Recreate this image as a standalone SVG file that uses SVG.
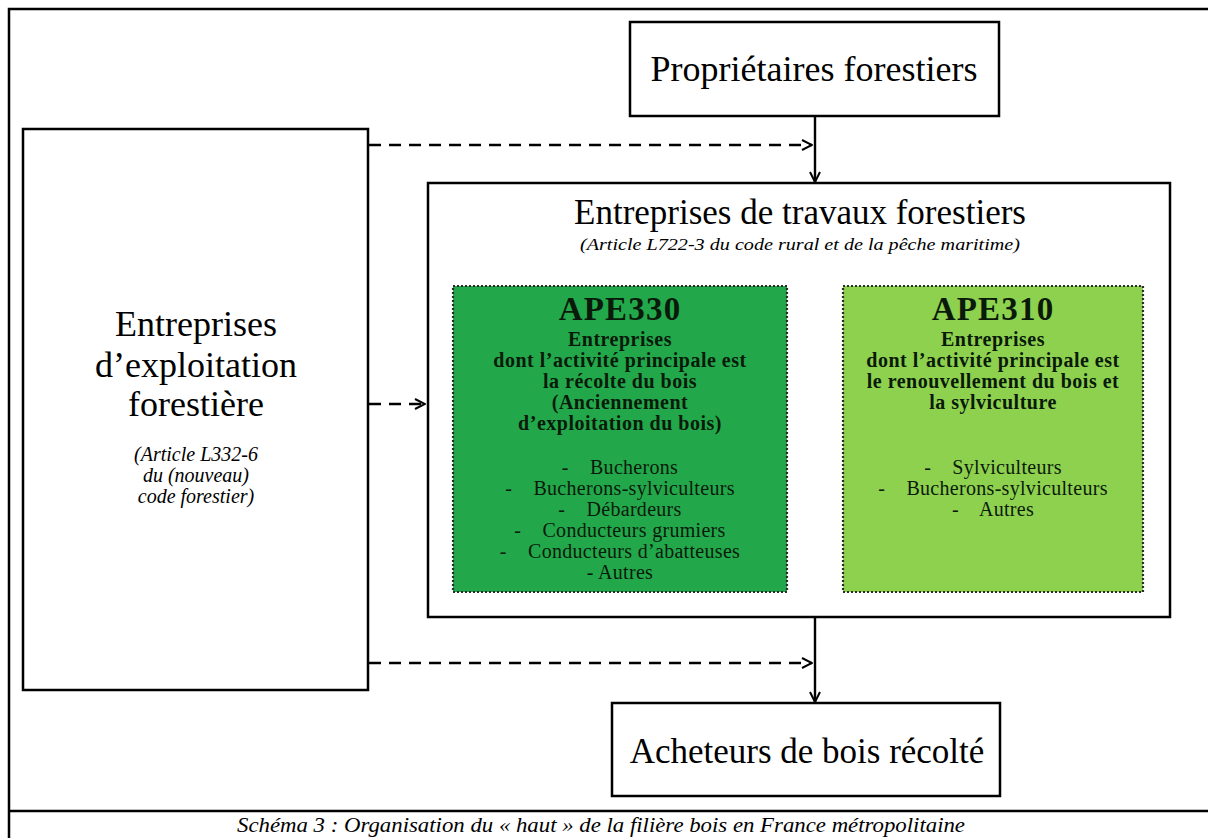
<svg xmlns="http://www.w3.org/2000/svg" width="1208" height="838" viewBox="0 0 1208 838">
<defs>
<style>
.box{fill:#fff;stroke:#000;stroke-width:2.5}
.frame{fill:none;stroke:#000;stroke-width:2.5}
.serif{font-family:"Liberation Serif","Times New Roman",serif;fill:#000}
.big{font-size:36px}
.it{font-style:italic}
.b{font-weight:bold}
.mid{text-anchor:middle}
.ape{stroke:#2b2b2b;stroke-width:2.2;stroke-dasharray:2 2}
.con{fill:none;stroke:#000;stroke-width:2.4}
.dash{stroke-dasharray:12 8}
.gt{font-size:20px;fill:#0a1a0a}
.gb{letter-spacing:0.5px}
.gl{letter-spacing:0.3px}
.head{font-size:33px;letter-spacing:1.2px;fill:#0a1a0a}
</style>
<marker id="arr" viewBox="0 0 12 12" refX="11" refY="6" markerWidth="12" markerHeight="12" markerUnits="userSpaceOnUse" orient="auto">
<path d="M1,1 L11,6 L1,11" fill="none" stroke="#000" stroke-width="2"/>
</marker>
</defs>
<rect width="1208" height="838" fill="#fff"/>
<g id="frame">
<path class="frame" d="M9,838 V9 H1208"/>
<line class="frame" x1="9" y1="811" x2="1208" y2="811"/>
<text class="serif it mid" x="601" y="832" font-size="22" textLength="728" lengthAdjust="spacingAndGlyphs">Schéma 3 : Organisation du « haut » de la filière bois en France métropolitaine</text>
</g>
<g id="connectors">
<line class="con" x1="815" y1="116" x2="815" y2="182" marker-end="url(#arr)"/>
<line class="con" x1="815" y1="617" x2="815" y2="702" marker-end="url(#arr)"/>
<line class="con dash" x1="369" y1="145" x2="812" y2="145" marker-end="url(#arr)"/>
<line class="con dash" x1="369" y1="404" x2="425" y2="404" marker-end="url(#arr)"/>
<line class="con dash" x1="369" y1="663" x2="812" y2="663" marker-end="url(#arr)"/>
</g>
<g id="proprietaires">
<rect class="box" x="630" y="22" width="369" height="94"/>
<text class="serif big mid" x="814" y="81">Propriétaires forestiers</text>
</g>
<g id="exploitation">
<rect class="box" x="23" y="129" width="345" height="561"/>
<text class="serif mid" font-size="36" x="196" y="336">Entreprises</text>
<text class="serif mid" font-size="36" x="196" y="377">d’exploitation</text>
<text class="serif mid" font-size="36" x="196" y="416">forestière</text>
<text class="serif it mid" font-size="20" x="196" y="461">(Article L332-6</text>
<text class="serif it mid" font-size="20" x="196" y="482">du (nouveau)</text>
<text class="serif it mid" font-size="20" x="196" y="503">code forestier)</text>
</g>
<g id="travaux">
<rect class="box" x="428" y="183" width="742" height="434"/>
<text class="serif mid" font-size="35" x="800" y="224">Entreprises de travaux  forestiers</text>
<text class="serif it mid" font-size="17" x="800" y="250" textLength="440" lengthAdjust="spacingAndGlyphs">(Article L722-3 du code rural et de la pêche maritime)</text>
</g>
<g id="ape330">
<rect class="ape" x="453" y="286" width="334" height="306" fill="#22a84a"/>
<text class="serif b mid head" x="620" y="320">APE330</text>
<g class="serif b mid gt gb">
<text x="620" y="346">Entreprises</text>
<text x="620" y="367">dont l’activité principale  est</text>
<text x="620" y="388">la récolte du bois</text>
<text x="620" y="409">(Anciennement</text>
<text x="620" y="430">d’exploitation du bois)</text>
</g>
<g class="serif mid gt gl">
<text x="620" y="474" xml:space="preserve">-    Bucherons</text>
<text x="620" y="495" xml:space="preserve">-    Bucherons-sylviculteurs</text>
<text x="620" y="516" xml:space="preserve">-    Débardeurs</text>
<text x="620" y="537" xml:space="preserve">-    Conducteurs grumiers</text>
<text x="620" y="558" xml:space="preserve">-    Conducteurs d’abatteuses</text>
<text x="620" y="579">- Autres</text>
</g>
</g>
<g id="ape310">
<rect class="ape" x="843" y="286" width="300" height="306" fill="#8ed14f"/>
<text class="serif b mid head" x="993" y="320">APE310</text>
<g class="serif b mid gt gb">
<text x="993" y="346">Entreprises</text>
<text x="993" y="367">dont l’activité principale  est</text>
<text x="993" y="388">le renouvellement  du bois et</text>
<text x="993" y="409">la sylviculture</text>
</g>
<g class="serif mid gt gl">
<text x="993" y="474" xml:space="preserve">-    Sylviculteurs</text>
<text x="993" y="495" xml:space="preserve">-    Bucherons-sylviculteurs</text>
<text x="993" y="516" xml:space="preserve">-    Autres</text>
</g>
</g>
<g id="acheteurs">
<rect class="box" x="612" y="703" width="388" height="93"/>
<text class="serif mid" font-size="35" x="807" y="763">Acheteurs de bois récolté</text>
</g>
</svg>
